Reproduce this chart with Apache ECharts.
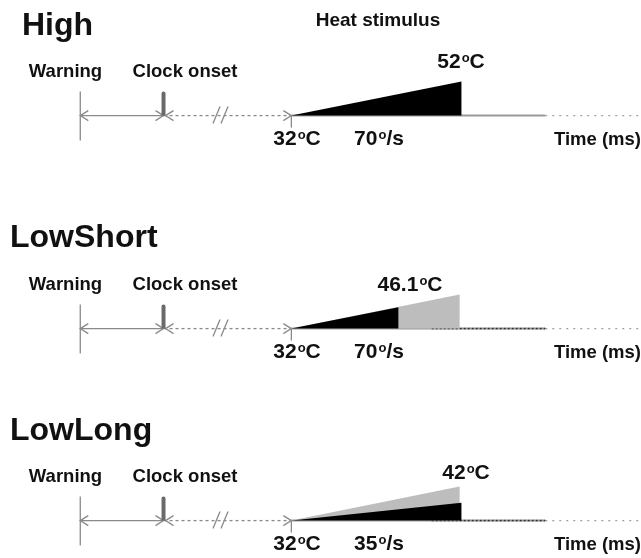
<!DOCTYPE html>
<html>
<head>
<meta charset="utf-8">
<script src="https://cdn.jsdelivr.net/npm/echarts@6/dist/echarts.min.js"></script>
<style>
html, body { margin: 0; background: #fff; }
#main { width: 641px; height: 558px; }
</style>
</head>
<body>
<div id="main"></div>
<script>
// conditions, top to bottom
const conditions = ['High', 'LowShort', 'LowLong'];
const peakLabels = ['52', '46.1', '42'];   // °C written above each ramp
const rateLabels = ['70', '70', '35'];     // ramp rate, °/s
const baseTemp = 32;
// black ramp: end (ms after onset) and temperature reached, as drawn
const rampEnd = [286, 180, 286];
const rampPeak = [52, 44.5, 42.5];
// grey reference ramp (the High stimulus) behind the Low conditions
const refEnd = [null, 283, 283];
const refPeak = [null, 52, 52];
// timeline (ms, stimulus onset = 0; pre-stimulus part is broken)
const warningTime = -355;
const clockTime = -215;
const breakTime = -120;
const baselineEnd = 427;
const timeAxisEnd = 588;
const denseDotStart = [null, 236, 236];

const FONT = '"Liberation Sans", Arial, sans-serif';
const gridTop = [68, 281, 473];
const panelShift = [0, 213, 405];
const lineGrey = '#8a8a8a';

function timelineRender(i) {
  return function (params, api) {
    const o = api.coord([0, baseTemp]);
    const y = o[1];
    const x0 = o[0];
    const xw = api.coord([warningTime, baseTemp])[0];
    const xc = api.coord([clockTime, baseTemp])[0];
    const xb = api.coord([breakTime, baseTemp])[0];
    const xe = api.coord([baselineEnd, baseTemp])[0];
    const xa = api.coord([timeAxisEnd, baseTemp])[0];
    const line = (x1, y1, x2, y2, st) => ({
      type: 'line', shape: { x1, y1, x2, y2 },
      style: Object.assign({ stroke: lineGrey, lineWidth: 1.3 }, st || {})
    });
    const chevron = (x, dir) => ({
      type: 'polyline',
      shape: { points: [[x - dir * 8, y - 5], [x, y], [x - dir * 8, y + 5]] },
      style: { stroke: lineGrey, lineWidth: 1.3, fill: null }
    });
    const kids = [
      line(xw, y - 24, xw, y + 25),
      line(xw, y, xc, y),
      chevron(xw, -1), chevron(xc, 1),
      line(xc, y, x0, y, { lineDash: [3, 3] }),
      chevron(xc + 2, -1), chevron(x0, 1),
      line(xb - 7, y + 8, xb, y - 9),
      line(xb + 1, y + 8, xb + 8, y - 9),
      line(x0, y, x0, y + 12),
      line(x0, y, xe, y, { stroke: '#9a9a9a', lineWidth: 2 }),
      line(xe, y, xa, y, { stroke: '#a0a0a0', lineDash: [2, 5] }),
      { type: 'rect', shape: { x: xc - 2, y: y - 24, width: 4, height: 24, r: [2, 2, 0, 0] }, style: { fill: '#6a6a6a' } }
    ];
    if (denseDotStart[i] != null) {
      const xd = api.coord([denseDotStart[i], baseTemp])[0];
      kids.push(line(xd, y, xe, y, { stroke: '#333', lineDash: [2, 2], lineWidth: 1.5 }));
    }
    return { type: 'group', children: kids };
  };
}

function rampRender(params, api) {
  const a = api.coord([api.value(0), api.value(2)]);
  const b = api.coord([api.value(1), api.value(3)]);
  const c = api.coord([api.value(1), api.value(2)]);
  return { type: 'polygon', shape: { points: [a, b, c] }, style: { fill: api.visual('color') } };
}

const grids = [], xAxes = [], yAxes = [], series = [];
conditions.forEach(function (name, i) {
  grids.push({ left: 0, right: 0, top: gridTop[i], height: 85 });
  xAxes.push({ type: 'value', gridIndex: i, min: -490, max: 588, show: false });
  yAxes.push({ type: 'value', gridIndex: i, min: 10, max: 60, show: false });
  series.push({
    type: 'custom', name: name + ' timeline', xAxisIndex: i, yAxisIndex: i,
    renderItem: timelineRender(i), data: [[0, baseTemp]], silent: true, clip: false
  });
  if (refEnd[i] != null) {
    series.push({
      type: 'custom', name: 'High reference', xAxisIndex: i, yAxisIndex: i,
      itemStyle: { color: '#bdbdbd' }, renderItem: rampRender, clip: false,
      data: [[0, refEnd[i], baseTemp, refPeak[i]]]
    });
  }
  series.push({
    type: 'custom', name: name + ' ramp', xAxisIndex: i, yAxisIndex: i,
    itemStyle: { color: '#000' }, renderItem: rampRender, clip: false,
    data: [[0, rampEnd[i], baseTemp, rampPeak[i]]]
  });
});

function txt(text, x, y, size, align, rich) {
  return {
    type: 'text', x: x, y: y, silent: true,
    style: {
      text: text, fontFamily: FONT, fontWeight: 'bold', fontSize: size,
      fill: '#111', align: align || 'center', verticalAlign: 'middle',
      rich: rich
    }
  };
}
const deg = { o: { fontSize: 13, fontWeight: 'bold', fontFamily: FONT, fill: '#111', verticalAlign: 'top', padding: [0, 0, 0, 1] } };

const graphic = [txt('Heat stimulus', 378, 21, 19)];
const titleX = [22, 10, 10];
const titleY = [26.5, 238, 431];
const peakPos = [[461, 62.5], [410, 285], [466, 473.5]];
conditions.forEach(function (name, i) {
  const s = panelShift[i];
  graphic.push(txt(name, titleX[i], titleY[i], 32, 'left'));
  graphic.push(txt('Warning', 65.5, 71.5 + s, 18.5));
  graphic.push(txt('Clock onset', 185, 71.5 + s, 18.5));
  graphic.push(txt(peakLabels[i] + '{o|o}C', peakPos[i][0], peakPos[i][1], 21, 'center', deg));
  graphic.push(txt(baseTemp + '{o|o}C', 297, 139.5 + s, 21, 'center', deg));
  graphic.push(txt(rateLabels[i] + '{o|o}/s', 379, 139.5 + s, 21, 'center', deg));
  graphic.push(txt('Time (ms)', 641, 139.5 + s, 18.5, 'right'));
});

const chart = echarts.init(document.getElementById('main'));
chart.setOption({
  animation: false,
  backgroundColor: '#fff',
  grid: grids,
  xAxis: xAxes,
  yAxis: yAxes,
  series: series,
  graphic: graphic
});
</script>
</body>
</html>
